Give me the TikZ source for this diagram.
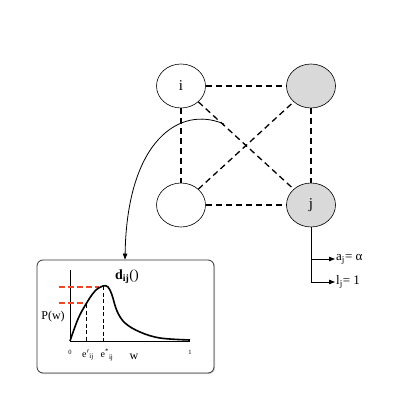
\documentclass[tikz,border=0pt]{standalone}
\usepackage{fontspec}
\setmainfont{Liberation Serif}
\usetikzlibrary{arrows.meta,shapes.geometric,shadows}
\definecolor{nc}{RGB}{217,217,217}
\definecolor{dc}{RGB}{236,72,40}
\tikzset{vert/.style={draw,ellipse,line width=.6pt,minimum width=49pt,minimum height=44pt,inner sep=0pt,font=\fontsize{15}{17}\selectfont},
 gvert/.style={vert,fill=nc},
 link/.style={dashed,line width=1.3pt,dash pattern=on 6pt off 4pt},
 arr/.style={-{Triangle[length=6pt,width=4.5pt]},line width=.9pt},
 panel/.style={draw=black!80,line width=.8pt,rounded corners=6pt,fill=white,drop shadow={opacity=.35,shadow xshift=1pt,shadow yshift=-1pt}},
 guide/.style={dashed,line width=.7pt,dash pattern=on 4pt off 2.5pt},
 level/.style={draw=dc,line width=1.3pt,dash pattern=on 6pt off 3pt},
 lbl/.style={inner sep=1pt,font=\fontsize{12}{14}\selectfont},
 tick/.style={inner sep=0pt,font=\fontsize{6.5}{7}\selectfont}}
\begin{document}
\begin{tikzpicture}[x=1pt,y=-1pt]
\useasboundingbox (0,0) rectangle (411,417);
% the four agents
\node[vert] (i) at (181,86) {i};
\node[gvert] (k) at (311,86) {};
\node[vert] (m) at (181,205) {};
\node[gvert] (j) at (311,205) {j};
\draw[link] (i)--(k); \draw[link] (m)--(j);
\draw[link] (i)--(m); \draw[link] (k)--(j);
\draw[link] (i)--(j); \draw[link] (m)--(k);
% distribution panel
\node[panel,minimum width=177pt,minimum height=113pt] (box) at (125.5,316.5) {};
\coordinate (o) at (70,341);
\draw[line width=.6pt] (70,270)--(o)--(190,341);
\draw[level] (59,287)--(99,287); \draw[level] (59,303)--(83,303);
\draw[guide] (86,304)--(86,341); \draw[guide] (103,286)--(103,341);
\draw[line width=1.6pt,smooth,tension=.6] plot coordinates {(o) (78,319) (86,304) (95,291) (103,286) (108,287) (112,295) (117,311) (125,323) (140,332) (160,338) (190,340)};
\node[lbl] (pw) at (53,317) {P(w)};
\node[lbl,font=\fontsize{14}{16}\selectfont] (d) at (127,277) {\textbf{d\textsubscript{ij}}()};
\node[tick] (t0) at (70,352) {0};
\node[tick] (t1) at (190,352) {1};
\node[lbl,font=\fontsize{10}{11}\selectfont] (e1) at (88,355) {e$'$\textsubscript{ij}};
\node[lbl,font=\fontsize{10}{11}\selectfont] (e2) at (107,355) {e\textsuperscript{*}\textsubscript{ij}};
\node[lbl] (w) at (134,357) {w};
% link from the pair to the panel
\coordinate (c) at (224,124);
\draw[arr,line width=.8pt] (c) .. controls (180,105) and (127,140) .. (box.north -| 125,0);
% outputs of j
\coordinate (jb) at (311,282);
\node[lbl,anchor=west,font=\fontsize{13}{15}\selectfont] (aj) at (335,259) {a\textsubscript{j}= α};
\node[lbl,anchor=west,font=\fontsize{13}{15}\selectfont] (lj) at (335,282) {l\textsubscript{j}= 1};
\draw[line width=.9pt] (j)--(jb);
\draw[arr] (j.south |- aj) -- (aj.west);
\draw[arr] (jb) -- (lj.west);
\end{tikzpicture}
\end{document}
